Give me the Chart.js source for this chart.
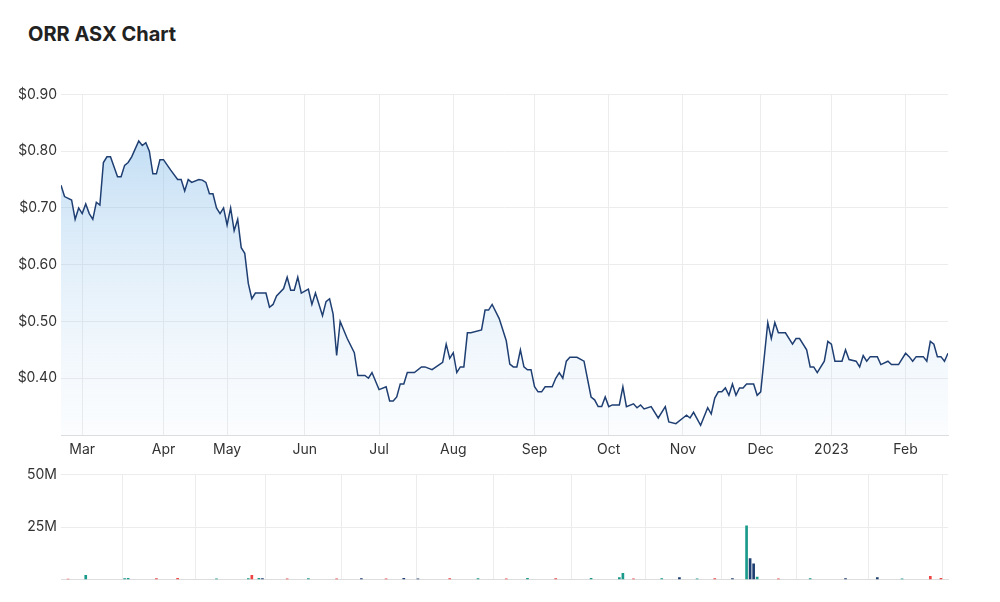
<!DOCTYPE html>
<html>
<head>
<meta charset="utf-8">
<script src="https://cdn.jsdelivr.net/npm/chart.js@4"></script>
<style>
  body { margin: 0; background: #fff; font-family: Inter, "Noto Sans", sans-serif; }
  #title { position: absolute; left: 28px; top: 22px; font-size: 20px; font-weight: 700; color: #222; }
  #priceWrap { position: absolute; left: 0; top: 82px; width: 1000px; height: 380px; }
  #volWrap { position: absolute; left: 0; top: 462px; width: 1000px; height: 130px; }
</style>
</head>
<body>
<div id="title">ORR ASX Chart</div>
<div id="priceWrap"><canvas id="chartPrice"></canvas></div>
<div id="volWrap"><canvas id="chartVol"></canvas></div>
<script>
/* trading-day index and closing price */
const dayIdx = [0,1,3,4,5,6,7,8,9,10,11,12,13,14,16,17,18,19,20,22,23,24,25,26,27,28,29,31,33,34,35,36,37,39,40,41,42,43,44,45,46,47,48,49,50,51,52,53,54,55,58,59,60,61,63,64,65,66,67,68,70,71,72,74,75,76,77,78,79,81,83,84,86,87,88,90,92,93,94,95,96,97,98,100,102,103,105,108,109,110,111,112,113,114,115,116,119,120,121,122,124,126,127,128,129,130,131,132,133,134,135,136,137,139,140,141,142,143,144,146,148,150,151,152,153,154,155,156,158,159,160,162,163,164,165,167,169,171,172,174,176,177,178,179,181,183,184,185,186,187,188,189,190,191,192,193,194,196,197,198,200,201,202,203,205,207,208,209,211,212,213,214,216,217,218,219,221,222,223,225,226,227,228,229,231,232,234,235,237,239,240,241,242,244,245,246,247,248,249,250,251];
const prices = [0.74,0.72,0.714,0.68,0.70,0.69,0.707,0.69,0.68,0.71,0.705,0.78,0.79,0.79,0.755,0.755,0.775,0.78,0.79,0.818,0.81,0.815,0.80,0.76,0.76,0.785,0.785,0.767,0.75,0.75,0.73,0.75,0.745,0.75,0.749,0.745,0.725,0.725,0.70,0.69,0.70,0.67,0.70,0.66,0.68,0.63,0.62,0.567,0.54,0.55,0.55,0.525,0.53,0.545,0.558,0.578,0.555,0.555,0.578,0.55,0.557,0.53,0.55,0.51,0.535,0.54,0.513,0.44,0.50,0.47,0.445,0.405,0.405,0.40,0.41,0.38,0.385,0.36,0.36,0.367,0.39,0.39,0.41,0.41,0.42,0.42,0.415,0.428,0.46,0.435,0.445,0.41,0.42,0.42,0.48,0.48,0.485,0.52,0.52,0.53,0.505,0.466,0.425,0.42,0.42,0.45,0.42,0.415,0.415,0.385,0.376,0.376,0.385,0.385,0.40,0.41,0.40,0.43,0.437,0.437,0.43,0.367,0.362,0.35,0.35,0.367,0.35,0.353,0.353,0.385,0.35,0.355,0.348,0.353,0.346,0.35,0.33,0.35,0.323,0.32,0.33,0.335,0.33,0.34,0.317,0.348,0.337,0.365,0.376,0.376,0.383,0.37,0.39,0.37,0.383,0.383,0.39,0.39,0.37,0.376,0.498,0.47,0.498,0.48,0.48,0.46,0.47,0.47,0.45,0.42,0.42,0.41,0.43,0.465,0.46,0.43,0.43,0.45,0.433,0.43,0.42,0.44,0.43,0.438,0.438,0.424,0.43,0.424,0.424,0.444,0.438,0.43,0.438,0.438,0.43,0.465,0.46,0.438,0.438,0.43,0.444];

/* notable volume bars (millions) */
const volIdx = [2,7,18,19,27,33,44,53,54,56,57,64,70,78,85,92,97,101,110,118,126,132,140,150,158,159,162,170,175,180,185,190,194,195,196,197,203,212,222,231,238,246,249];
const volValues = [0.3,2.0,0.5,0.6,0.5,0.6,0.4,0.5,2.0,0.6,0.5,0.4,0.5,0.4,0.5,0.4,0.6,0.4,0.5,0.5,0.4,0.6,0.5,0.6,1.0,3.0,0.4,0.5,1.0,0.4,0.5,0.5,25.5,10.0,7.5,1.2,0.4,0.5,0.5,1.0,0.4,1.5,0.6];
const volColors = ["#e44","#1a9a8a","#1a9a8a","#1a9a8a","#e44","#e44","#1a9a8a","#1a9a8a","#e44","#1a9a8a","#1f3f73","#e44","#1a9a8a","#e44","#1f3f73","#e44","#1f3f73","#1f3f73","#e44","#1a9a8a","#e44","#1a9a8a","#e44","#1a9a8a","#1a9a8a","#1a9a8a","#e44","#1a9a8a","#1f3f73","#1a9a8a","#e44","#1f3f73","#1a9a8a","#1f3f73","#1f3f73","#1a9a8a","#e44","#1a9a8a","#1f3f73","#1f3f73","#1a9a8a","#e44","#e44"];

/* month ticks on the trading-day axis */
const tickIdx = [6,29,47,69,90,111,134,155,176,198,218,239];
const tickLabels = ["Mar","Apr","May","Jun","Jul","Aug","Sep","Oct","Nov","Dec","2023","Feb"];

const gridColor = "#ececec";
const tickFont = { family: "Inter, 'Noto Sans', sans-serif", size: 14 };

function monthTicks(scale) {
  scale.ticks = tickIdx.map((v) => ({ value: v }));
}

new Chart(document.getElementById("chartPrice"), {
  type: "line",
  data: {
    datasets: [{
      data: dayIdx.map((d, i) => ({ x: d, y: prices[i] })),
      borderColor: "#1f3f73",
      borderWidth: 1.5,
      pointRadius: 0,
      tension: 0,
      fill: "start",
      backgroundColor: (c) => {
        const area = c.chart.chartArea;
        if (!area) return "rgba(120,180,230,0.4)";
        const g = c.chart.ctx.createLinearGradient(0, area.top, 0, area.bottom);
        g.addColorStop(0, "rgba(110,175,230,0.5)");
        g.addColorStop(1, "rgba(200,225,245,0.08)");
        return g;
      },
    }],
  },
  options: {
    responsive: true,
    maintainAspectRatio: false,
    animation: false,
    layout: { padding: { top: 9, right: 52 } },
    scales: {
      x: {
        type: "linear", min: 0, max: 251,
        afterBuildTicks: monthTicks,
        afterFit: (s) => { s.height = 27; },
        grid: { color: gridColor, drawTicks: false },
        border: { color: "#ddd" },
        ticks: { color: "#333", font: tickFont, padding: 6, maxRotation: 0,
          callback: (v) => tickLabels[tickIdx.indexOf(v)] },
      },
      y: {
        min: 0.3, max: 0.9,
        afterFit: (s) => { s.width = 61; },
        grid: { color: gridColor, drawTicks: false },
        border: { display: false },
        ticks: { stepSize: 0.1, color: "#333", font: tickFont, padding: 4,
          callback: (v) => (v < 0.35 ? "" : "$" + v.toFixed(2)) },
      },
    },
    plugins: { legend: { display: false }, tooltip: { enabled: false } },
  },
});

new Chart(document.getElementById("chartVol"), {
  type: "bar",
  data: {
    datasets: [{
      data: volIdx.map((d, i) => ({ x: d, y: volValues[i] })),
      backgroundColor: volColors,
      barThickness: 2,
    }],
  },
  options: {
    responsive: true,
    maintainAspectRatio: false,
    animation: false,
    layout: { padding: { top: 10, right: 52, bottom: 11 } },
    scales: {
      x: {
        type: "linear", min: 0, max: 251, offset: false,
        afterBuildTicks: monthTicks,
        grid: { color: gridColor, drawTicks: false },
        border: { color: "#ddd" },
        ticks: { display: false },
      },
      y: {
        min: 0, max: 50,
        afterFit: (s) => { s.width = 61; },
        grid: { color: gridColor, drawTicks: false },
        border: { display: false },
        ticks: { stepSize: 25, color: "#333", font: tickFont, padding: 4,
          callback: (v) => (v === 0 ? "" : v + "M") },
      },
    },
    plugins: { legend: { display: false }, tooltip: { enabled: false } },
  },
});
</script>
</body>
</html>
